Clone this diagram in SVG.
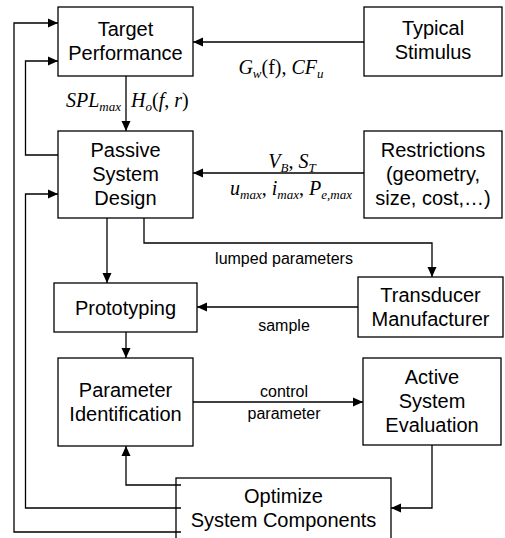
<svg xmlns="http://www.w3.org/2000/svg" width="505" height="538" viewBox="0 0 505 538">
  <defs>
    <marker id="arrow" viewBox="0 0 10 10" refX="10" refY="5" markerWidth="10" markerHeight="10" markerUnits="userSpaceOnUse" orient="auto">
      <path d="M0,0.5 L10,5 L0,9.5 z" fill="#000"/>
    </marker>
    <style>
      .box { fill: #fff; stroke: #000; stroke-width: 1.3; }
      .lbl { font-family: "Liberation Sans", Arial, sans-serif; font-size: 20px; fill: #000; text-anchor: middle; }
      .small { font-family: "Liberation Sans", Arial, sans-serif; font-size: 16px; fill: #000; text-anchor: middle; }
      .math { font-family: "Liberation Serif", "Times New Roman", serif; font-size: 20px; fill: #000; }
      .it { font-style: italic; }
      .sub { font-style: italic; font-size: 13px; }
      .wire { fill: none; stroke: #000; stroke-width: 1.3; }
      .arr { marker-end: url(#arrow); }
    </style>
  </defs>
  <rect width="505" height="538" fill="#fff"/>

  <!-- connectors -->
  <g id="connectors">
    <path class="wire arr" d="M364,42 H193"/>
    <path class="wire arr" d="M126,76 V131"/>
    <path class="wire arr" d="M364,173 H193"/>
    <path class="wire arr" d="M58,155 H25.5 V61 H58"/>
    <path class="wire arr" d="M181,508 H25.5 V194 H58"/>
    <path class="wire arr" d="M181,532 H14 V23 H58"/>
    <path class="wire arr" d="M107,218 V283"/>
    <path class="wire arr" d="M144,218 V243 H432 V277"/>
    <path class="wire arr" d="M358,307 H197"/>
    <path class="wire arr" d="M126,332 V358"/>
    <path class="wire arr" d="M193,402 H363"/>
    <path class="wire arr" d="M432,445 V508 H391"/>
    <path class="wire arr" d="M181,485 H126 V446"/>

    <!-- connector labels -->
    <text class="math" x="281" y="74" text-anchor="middle"><tspan class="it">G</tspan><tspan class="sub" dy="4">w</tspan><tspan dy="-4">(f), </tspan><tspan class="it">CF</tspan><tspan class="sub" dy="4">u</tspan></text>
    <text class="math" x="121" y="107" text-anchor="end"><tspan class="it">SPL</tspan><tspan class="sub" dy="4">max</tspan></text>
    <text class="math" x="131" y="107"><tspan class="it">H</tspan><tspan class="sub" dy="4">o</tspan><tspan dy="-4">(</tspan><tspan class="it">f</tspan><tspan>, </tspan><tspan class="it">r</tspan><tspan>)</tspan></text>
    <text class="math" x="292" y="168" text-anchor="middle"><tspan class="it">V</tspan><tspan class="sub" dy="4">B</tspan><tspan dy="-4">, </tspan><tspan class="it">S</tspan><tspan class="sub" dy="4">T</tspan></text>
    <text class="math" x="291" y="195" text-anchor="middle"><tspan class="it">u</tspan><tspan class="sub" dy="4">max</tspan><tspan dy="-4">, </tspan><tspan class="it">i</tspan><tspan class="sub" dy="4">max</tspan><tspan dy="-4">, </tspan><tspan class="it">P</tspan><tspan class="sub" dy="4">e,max</tspan></text>
    <text class="small" x="284" y="264">lumped parameters</text>
    <text class="small" x="284" y="331">sample</text>
    <text class="small" x="284" y="397">control</text>
    <text class="small" x="284" y="419">parameter</text>
  </g>

  <g id="target-performance">
    <rect class="box" x="58" y="7" width="135" height="69"/>
    <text class="lbl" x="125.5" y="36">Target</text>
    <text class="lbl" x="125.5" y="60">Performance</text>
  </g>

  <g id="typical-stimulus">
    <rect class="box" x="364" y="7" width="138" height="69"/>
    <text class="lbl" x="433" y="35">Typical</text>
    <text class="lbl" x="433" y="59">Stimulus</text>
  </g>

  <g id="passive-system-design">
    <rect class="box" x="58" y="131" width="135" height="87"/>
    <text class="lbl" x="125.5" y="157">Passive</text>
    <text class="lbl" x="125.5" y="181">System</text>
    <text class="lbl" x="125.5" y="205">Design</text>
  </g>

  <g id="restrictions">
    <rect class="box" x="364" y="131" width="138" height="87"/>
    <text class="lbl" x="433" y="157">Restrictions</text>
    <text class="lbl" x="433" y="181">(geometry,</text>
    <text class="lbl" x="433" y="205">size, cost,…)</text>
  </g>

  <g id="prototyping">
    <rect class="box" x="54" y="283" width="143" height="49"/>
    <text class="lbl" x="125.5" y="315">Prototyping</text>
  </g>

  <g id="transducer-manufacturer">
    <rect class="box" x="358" y="277" width="145" height="60"/>
    <text class="lbl" x="430.5" y="302">Transducer</text>
    <text class="lbl" x="430.5" y="326">Manufacturer</text>
  </g>

  <g id="parameter-identification">
    <rect class="box" x="58" y="358" width="135" height="88"/>
    <text class="lbl" x="125.5" y="397">Parameter</text>
    <text class="lbl" x="125.5" y="421">Identification</text>
  </g>

  <g id="active-system-evaluation">
    <rect class="box" x="363" y="358" width="138" height="87"/>
    <text class="lbl" x="432" y="384">Active</text>
    <text class="lbl" x="432" y="408">System</text>
    <text class="lbl" x="432" y="432">Evaluation</text>
  </g>

  <g id="optimize-system-components">
    <rect class="box" x="176" y="478" width="215" height="70"/>
    <text class="lbl" x="283.5" y="503">Optimize</text>
    <text class="lbl" x="283.5" y="527">System Components</text>
  </g>

  <!-- feedback wires overlapping the left edge of the optimize box -->
  <g id="feedback-stubs">
    <path class="wire" d="M176,485 H181 M176,508 H181 M176,532 H181"/>
  </g>
</svg>
